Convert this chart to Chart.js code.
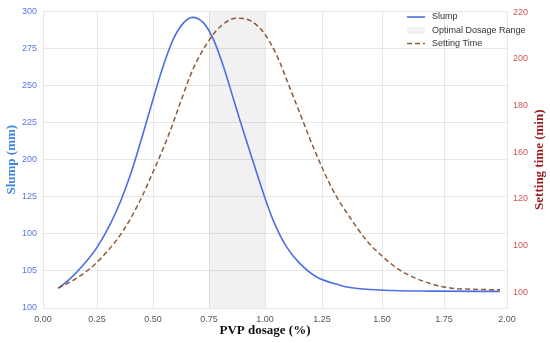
<!DOCTYPE html>
<html><head><meta charset="utf-8">
<script src="https://cdn.jsdelivr.net/npm/chart.js@4.4.1/dist/chart.umd.min.js"></script>
<style>html,body{margin:0;padding:0;background:#fff}#wrap{width:550px;height:343px;position:relative}</style>
</head><body><div id="wrap"><canvas id="c"></canvas></div>
<script>
// ---- data ----
const slumpDosage = [0.0694,0.125,0.1852,0.25,0.3080,0.3571,0.4040,0.4509,0.5,0.5460,0.5906,0.6353,0.6754,0.7246,0.7692,0.8138,0.8585,0.8884,0.9406,0.9924,1.0364,1.0952,1.1535,1.2268,1.3250,1.3667,1.5052,1.7069,1.9722];
const slumpValues  = [113.2,119.6,128.8,140.9,156.2,172.7,192.0,215.2,240.6,263.3,281.3,292.1,296.0,292.4,281.3,263.2,241.3,226.4,201.6,177.6,158.9,141.0,129.9,120.9,115.4,113.8,112.0,111.4,111.2];
const settingDosage = [0.0708,0.1403,0.2176,0.2933,0.3674,0.4420,0.4790,0.5759,0.6205,0.6799,0.7545,0.8138,0.8737,0.9330,0.9924,1.0513,1.1096,1.1535,1.2193,1.2971,1.3667,1.4363,1.5052,1.5726,1.6399,1.7069,1.7738,1.8401,1.9722];
const settingValues  = [101.8,105.1,110.1,117.2,126.4,139.2,146.9,168.9,180.9,195.9,208.6,215.0,217.5,216.5,211.5,201.6,187.4,176.6,160.4,143.4,132.0,122.1,115.0,109.4,105.8,103.3,101.8,101.3,101.0];
const optimalRange = [0.75, 1.00];
const xTickValues = [0,0.25,0.5,0.75,1.0,1.25,1.5,1.75,2.0];
const slumpTickValues = [100,125,150,175,200,225,250,275,300];
const slumpTickLabels = ['100','105','100','125','200','225','250','275','300'];
const settingTickValues = [100,120,140,160,180,200,220];
const settingTickLabels = ['100','100','120','160','180','200','220'];
const seriesNames = ['Slump','Optimal Dosage Range','Setting Time'];

// x axis in the reference is not evenly spaced: fraction of axis length at each tick
const xAxisTickFractions = [0, 54/464, 110/464, 166/464, 222/464, 279/464, 339/464, 401/464, 1];

const BLUE = '#4a6fe3';
const BROWN = '#8c5a3c';
const SHADE = 'rgba(0,0,0,0.055)';
const GRID = '#e6e6e6';
const SANS = "'Liberation Sans', Arial, sans-serif";
const SERIF = "'Liberation Serif', 'DejaVu Serif', serif";

function interp(v, xs, ys) {
  if (v <= xs[0]) return ys[0] + (v - xs[0]) * (ys[1] - ys[0]) / (xs[1] - xs[0]);
  for (let i = 1; i < xs.length; i++) {
    if (v <= xs[i]) return ys[i-1] + (v - xs[i-1]) * (ys[i] - ys[i-1]) / (xs[i] - xs[i-1]);
  }
  const n = xs.length - 1;
  return ys[n] + (v - xs[n]) * (ys[n] - ys[n-1]) / (xs[n] - xs[n-1]);
}

class WarpedLinearScale extends Chart.LinearScale {
  getPixelForValue(value) {
    return this.getPixelForDecimal(interp(value, xTickValues, xAxisTickFractions));
  }
  getValueForPixel(pixel) {
    return interp(this.getDecimalForPixel(pixel), xAxisTickFractions, xTickValues);
  }
}
WarpedLinearScale.id = 'warpedLinear';
WarpedLinearScale.defaults = Chart.LinearScale.defaults;
Chart.register(WarpedLinearScale);

const pts = (xs, ys) => xs.map((x, i) => ({x, y: ys[i]}));

const decorPlugin = {
  id: 'decor',
  afterDraw(chart) {
    const ctx = chart.ctx;
    ctx.save();
    ctx.font = '9px ' + SANS;
    ctx.textBaseline = 'middle';
    ctx.textAlign = 'left';
    ctx.fillStyle = '#333';
    const x0 = 407, x1 = 425, tx = 432;
    const ys = [17, 30.5, 43.5];
    ctx.strokeStyle = BLUE; ctx.lineWidth = 1.6; ctx.setLineDash([]);
    ctx.beginPath(); ctx.moveTo(x0, ys[0]); ctx.lineTo(x1, ys[0]); ctx.stroke();
    ctx.fillText(seriesNames[0], tx, ys[0]);
    ctx.fillStyle = SHADE; ctx.fillRect(x0, ys[1] - 3.5, x1 - x0, 7);
    ctx.fillStyle = '#333';
    ctx.fillText(seriesNames[1], tx, ys[1]);
    ctx.strokeStyle = BROWN; ctx.lineWidth = 1.5; ctx.setLineDash([5, 3]);
    ctx.beginPath(); ctx.moveTo(x0, ys[2]); ctx.lineTo(x1, ys[2]); ctx.stroke();
    ctx.setLineDash([]);
    ctx.fillText(seriesNames[2], tx, ys[2]);
    // x axis title, centred on the middle of the value range
    const a = chart.chartArea;
    ctx.textAlign = 'center';
    ctx.fillStyle = '#111';
    ctx.font = 'bold 13px ' + SERIF;
    ctx.fillText('PVP dosage (%)', chart.scales.x.getPixelForValue(1.0), 331);
    // right axis title (reads bottom to top)
    ctx.translate(540, (a.top + a.bottom) / 2);
    ctx.rotate(-Math.PI / 2);
    ctx.fillStyle = '#9b1c1c';
    ctx.fillText('Setting time (min)', 0, 0);
    ctx.restore();
  }
};

new Chart(document.getElementById('c'), {
  type: 'line',
  data: {
    datasets: [
      {
        label: seriesNames[1],
        data: [{x: optimalRange[0], y: 300}, {x: optimalRange[1], y: 300}],
        yAxisID: 'y', fill: 'start', backgroundColor: SHADE,
        borderWidth: 0, pointRadius: 0, order: 3, tension: 0
      },
      {
        label: seriesNames[0],
        data: pts(slumpDosage, slumpValues),
        yAxisID: 'y', borderColor: BLUE, borderWidth: 1.6,
        pointRadius: 0, fill: false, cubicInterpolationMode: 'monotone', order: 2
      },
      {
        label: seriesNames[2],
        data: pts(settingDosage, settingValues),
        yAxisID: 'y1', borderColor: BROWN, borderWidth: 1.5, borderDash: [5, 3],
        pointRadius: 0, fill: false, cubicInterpolationMode: 'monotone', order: 1
      }
    ]
  },
  options: {
    responsive: true, maintainAspectRatio: false, animation: false, devicePixelRatio: 1,
    layout: {padding: {top: 9, left: 0, right: 0, bottom: 0}},
    plugins: {legend: {display: false}, tooltip: {enabled: false}},
    scales: {
      x: {
        type: 'warpedLinear', min: 0, max: 2,
        afterBuildTicks: s => { s.ticks = xTickValues.map(v => ({value: v})); },
        afterFit: s => { s.height = 35; },
        grid: {color: GRID, drawTicks: false},
        border: {color: GRID},
        ticks: {padding: 6, color: '#555', font: {family: SANS, size: 9}, callback: v => Number(v).toFixed(2), maxRotation: 0, autoSkip: false}
      },
      y: {
        type: 'linear', position: 'left', min: 100, max: 300,
        afterBuildTicks: s => { s.ticks = slumpTickValues.map(v => ({value: v})); },
        afterFit: s => { s.width = 43; },
        grid: {color: GRID, drawTicks: false},
        border: {color: GRID},
        ticks: {padding: 6, color: '#5a78e0', font: {family: SANS, size: 9},
          callback: (v, i) => slumpTickLabels[i]},
        title: {display: true, text: 'Slump (mm)', color: '#3f86df', font: {family: SERIF, size: 13, weight: 'bold'}, padding: {top: 4, bottom: 4}}
      },
      y1: {
        type: 'linear', position: 'right', min: 93.2, max: 220.4,
        afterBuildTicks: s => { s.ticks = settingTickValues.map(v => ({value: v})); },
        afterFit: s => { s.width = 43; },
        grid: {drawOnChartArea: false, drawTicks: false, color: GRID},
        border: {color: GRID},
        ticks: {padding: 6, color: '#c55a55', font: {family: SANS, size: 9},
          callback: (v, i) => settingTickLabels[i]}
      }
    }
  },
  plugins: [decorPlugin]
});
</script>
</body></html>
